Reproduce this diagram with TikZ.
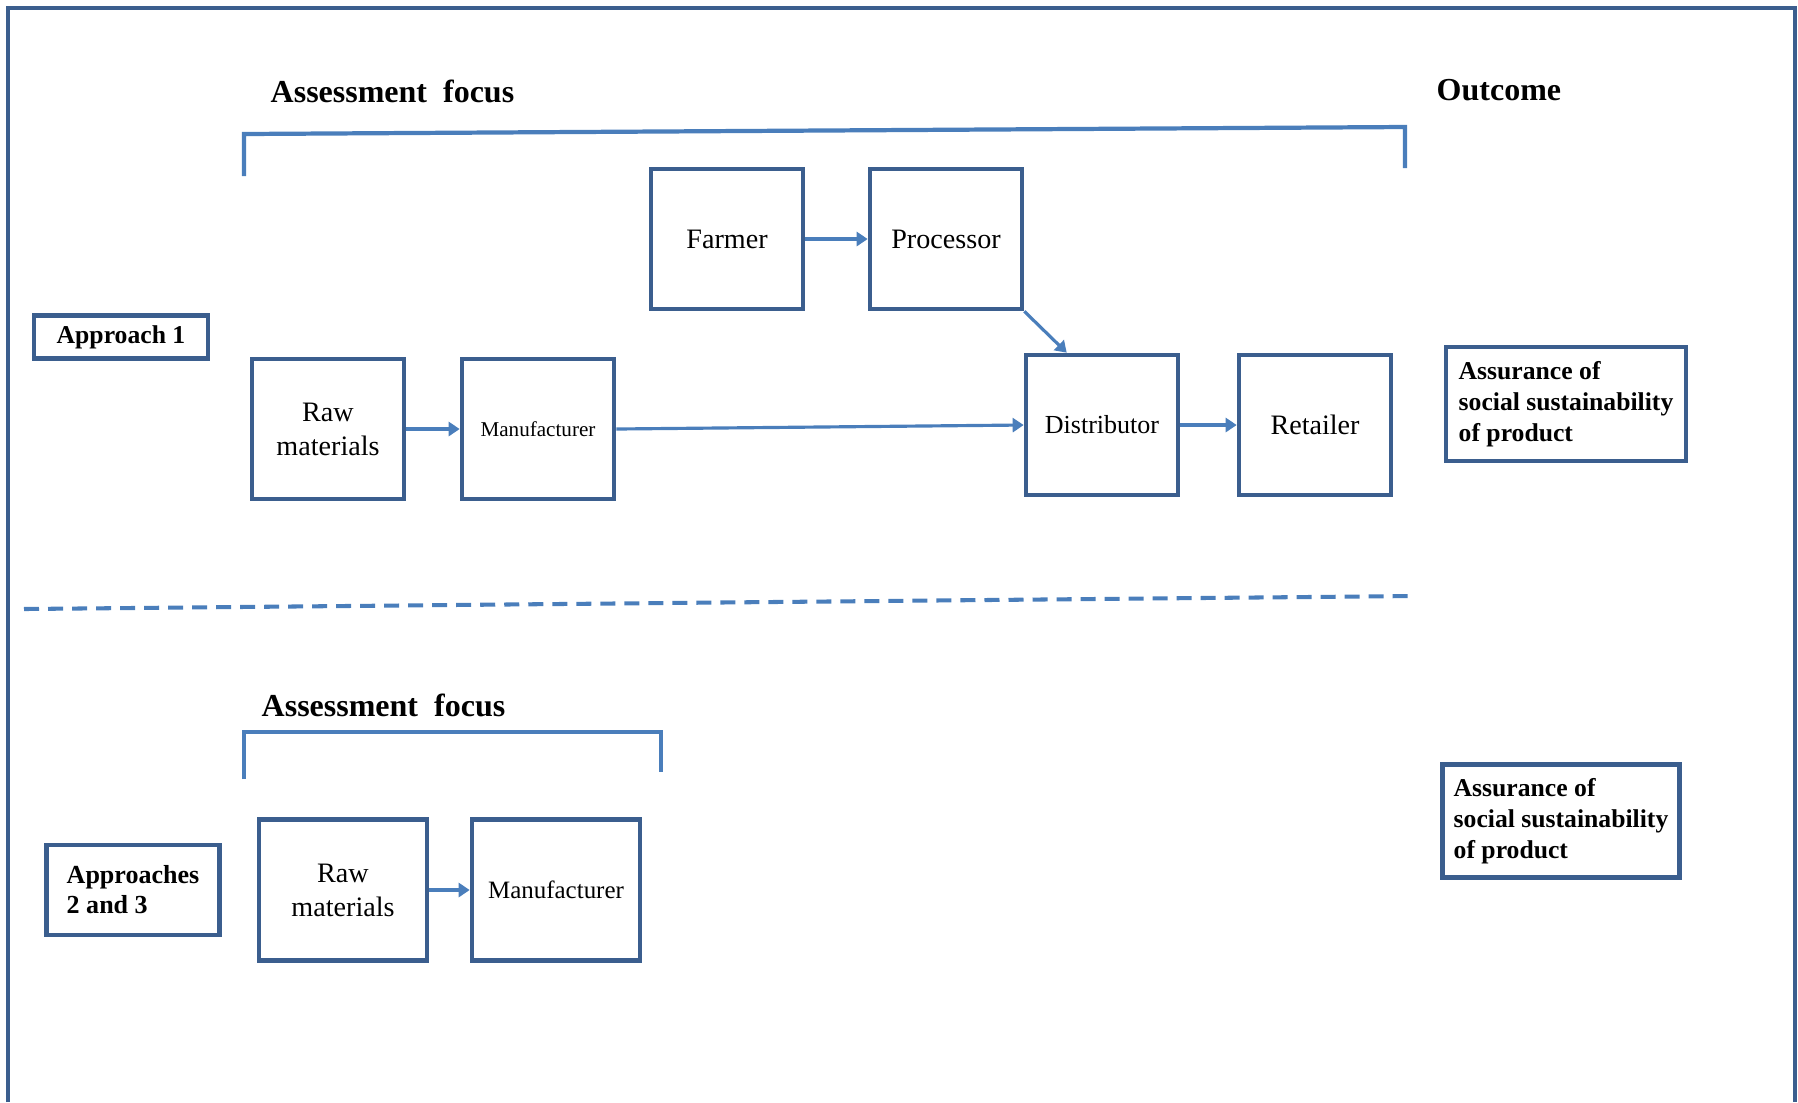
\documentclass[tikz,border=0pt]{standalone}
\usepackage{fontspec}
\setmainfont{Liberation Serif}
\usetikzlibrary{arrows.meta}
\definecolor{boxblue}{HTML}{3B5E8E}
\definecolor{linkblue}{HTML}{4A7EBB}
\begin{document}
\begin{tikzpicture}[x=0.01cm, y=-0.01cm,
  box/.style={draw=boxblue, line width=1.3pt, inner sep=0pt, align=center,
    minimum width=1.52cm, minimum height=1.40cm, font=\fontsize{8}{9.7}\selectfont},
  tagbox/.style={draw=boxblue, line width=1.3pt, inner sep=0pt, align=left,
    font=\bfseries\fontsize{7.3}{8.8}\selectfont},
  heading/.style={anchor=base west, inner sep=0pt, font=\bfseries\fontsize{9.1}{11}\selectfont},
  link/.style={draw=linkblue, line width=0.9pt, -{Triangle[length=0.11cm,width=0.14cm]}},
  bracket/.style={draw=linkblue, line width=1.2pt}]

\useasboundingbox (0,0) rectangle (1798,1102);

\draw[boxblue, line width=1.2pt] (8,1102) -- (8,8) -- (1795,8) -- (1795,1102);

\node[heading] (focus) at (270,102) {Assessment\ \ focus};
\node[heading] (result) at (1436,100) {Outcome};
\draw[bracket] (244,176) -- (244,134) -- (1405,127) -- (1405,168);

\node[box] (farmer) at (727,239) {Farmer};
\node[box] (processor) at (946,239) {Processor};
\node[box] (raw) at (328,429) {Raw\\materials};
\node[box, font=\fontsize{6}{7}\selectfont] (maker) at (538,429) {Manufacturer};
\node[box, font=\fontsize{7.4}{8.9}\selectfont] (distributor) at (1102,425) {Distributor};
\node[box] (retailer) at (1315,425) {Retailer};
\node[tagbox, minimum width=1.74cm, minimum height=0.43cm, align=center] (approach) at (121,337) {Approach 1};
\node[tagbox, minimum width=2.40cm, minimum height=1.14cm] (outcome) at (1566,404) {Assurance of\\social sustainability\\of product};

\draw[link] (farmer) -- (processor);
\draw[link] (raw) -- (maker);
\draw[link] (maker.east) -- (distributor.west);
\draw[link] (distributor) -- (retailer);
\draw[link] (processor.south east) -- ([xshift=0.43cm]distributor.north west);

\draw[linkblue, line width=1.15pt, dash pattern=on 0.15cm off 0.09cm] (24,609) -- (1415,596);

\node[heading] (focus2) at (261,716) {Assessment\ \ focus};
\draw[bracket] (244,779) -- (244,732) -- (661,732) -- (661,772);

\node[box, minimum width=1.68cm, minimum height=1.41cm] (raw2) at (343,890) {Raw\\materials};
\node[box, minimum width=1.68cm, minimum height=1.41cm, font=\fontsize{7.1}{8.5}\selectfont] (maker2) at (556,890) {Manufacturer};
\node[tagbox, minimum width=1.73cm, minimum height=0.90cm, font=\bfseries\fontsize{7.4}{8.5}\selectfont] (approaches) at (133,890) {Approaches\\2 and 3};
\node[tagbox, minimum width=2.37cm, minimum height=1.13cm] (outcome2) at (1561,821) {Assurance of\\social sustainability\\of product};

\draw[link] (raw2) -- (maker2);

\end{tikzpicture}
\end{document}
